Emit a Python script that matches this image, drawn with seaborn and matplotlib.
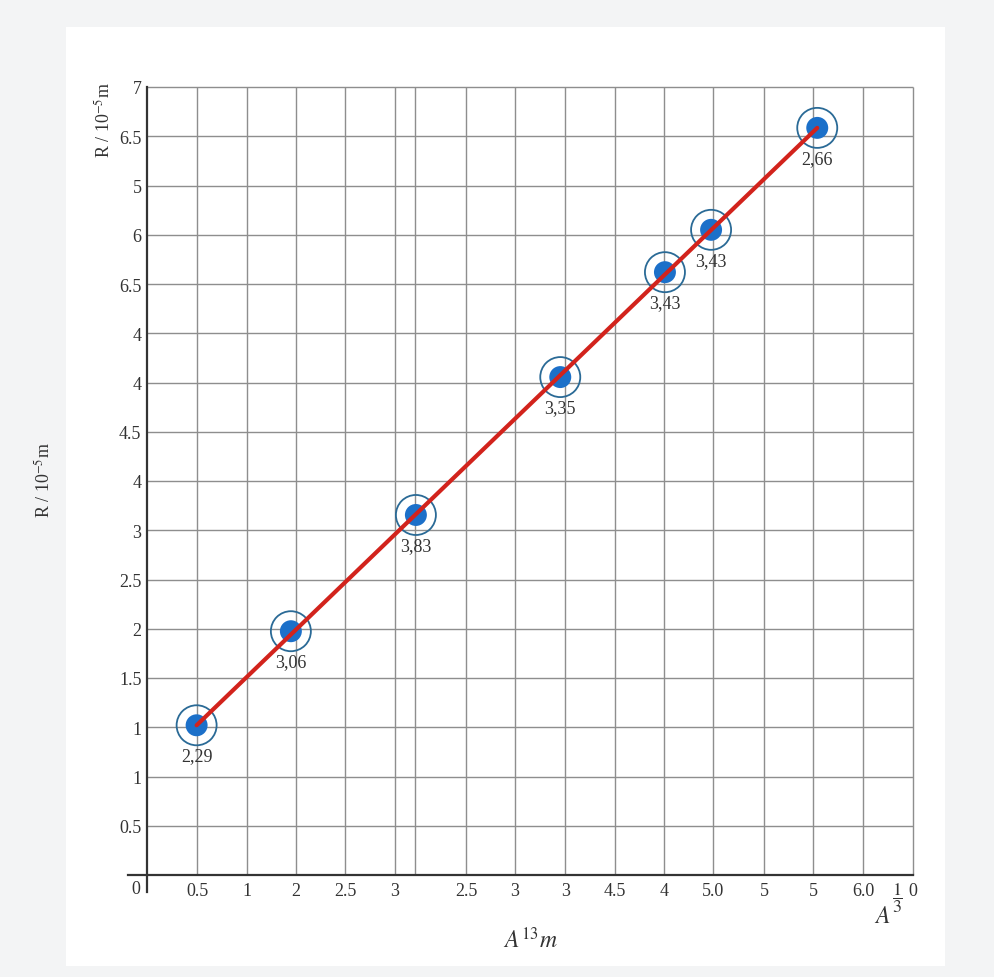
import numpy as np
import pandas as pd
import matplotlib
matplotlib.use("Agg")
import matplotlib.pyplot as plt
import seaborn as sns
from matplotlib.patches import Rectangle

# grid line positions (index units) and the labels printed on them
x_ticks = [1.01, 2.02, 3.0, 3.99, 5.0, 5.40, 6.43, 7.42, 8.43, 9.43, 10.42,
           11.41, 12.44, 13.43, 14.43, 15.44]
x_labels = ["0.5", "1", "2", "2.5", "3", "", "2.5", "3", "3", "4.5", "4",
            "5.0", "5", "5", "6.0", "0"]
y_ticks = list(range(1, 17))
y_labels = ["0.5", "1", "1", "1.5", "2", "2.5", "3", "4", "4.5", "4", "4",
            "6.5", "6", "5", "6.5", "7"]

# measured points
pt_x = [1.0, 2.90, 5.42, 8.33, 10.44, 11.37, 13.51]
pt_y = [3.04, 4.95, 7.31, 10.11, 12.24, 13.10, 15.17]
pt_labels = ["2,29", "3,06", "3,83", "3,35", "3,43", "3,43", "2,66"]

df = pd.DataFrame({"x": pt_x, "y": pt_y, "label": pt_labels})

W, H = 995, 978
sns.set_theme(style="white")
plt.rcParams["font.family"] = ["Liberation Serif", "DejaVu Serif"]
plt.rcParams["mathtext.fontset"] = "stix"
FS = 13
TXT = "#333333"

fig = plt.figure(figsize=(W / 100, H / 100), dpi=100)
fig.patch.set_facecolor("#f3f4f5")
fig.patches.append(Rectangle((66 / W, 1 - 967 / H), (945 - 66) / W, (967 - 28) / H,
                             transform=fig.transFigure, facecolor="white",
                             edgecolor="none", zorder=-10))

# axes placement from pixel anchors: x=0 -> 147px, x=15.44 -> 913px; y=0 -> 876px, y=16 -> 88px
xlim = (-0.45, 15.52)
ylim = (-0.45, 16.1)
sx = (913 - 147) / 15.44
sy = (876 - 88) / 16.0
left_px = 147 + xlim[0] * sx
right_px = 147 + xlim[1] * sx
bot_px = 876 - ylim[0] * sy
top_px = 876 - ylim[1] * sy
ax = fig.add_axes([left_px / W, 1 - bot_px / H, (right_px - left_px) / W, (bot_px - top_px) / H])
ax.set_facecolor("none")
ax.set_xlim(*xlim)
ax.set_ylim(*ylim)

grid_c = "#8e8e8e"
ax.vlines(x_ticks, 0, 16, color=grid_c, lw=1.0, zorder=1)
ax.hlines(y_ticks, 0, 15.44, color=grid_c, lw=1.0, zorder=1)

# fitted line through the ends of the series
sns.lineplot(x=[pt_x[0], pt_x[-1]], y=[pt_y[0], pt_y[-1]], ax=ax,
             color="#d2231c", lw=3.0, zorder=4)

# outer rings and filled dots
sns.scatterplot(data=df, x="x", y="y", ax=ax, s=830, facecolor="none",
                edgecolor="#2a6a96", linewidth=1.3, zorder=3)
sns.scatterplot(data=df, x="x", y="y", ax=ax, s=250, color="#1c70c9",
                edgecolor="none", zorder=3.5)

for _, r in df.iterrows():
    ax.annotate(r["label"], (r["x"], r["y"]), xytext=(0, -22), textcoords="offset points",
                ha="center", va="center", fontsize=FS, color=TXT)

ax.set_xticks(x_ticks)
ax.set_xticklabels(x_labels)
ax.set_yticks(y_ticks)
ax.set_yticklabels(y_labels)
ax.tick_params(axis="both", length=0, labelsize=FS, colors=TXT)
ax.tick_params(axis="x", pad=5)
ax.tick_params(axis="y", pad=4)

for s in ["top", "right"]:
    ax.spines[s].set_visible(False)
ax.spines["left"].set_position(("data", 0))
ax.spines["bottom"].set_position(("data", 0))
ax.spines["left"].set_bounds(-0.35, 16)
ax.spines["bottom"].set_bounds(-0.38, 15.44)
for s in ["left", "bottom"]:
    ax.spines[s].set_color(TXT)
    ax.spines[s].set_linewidth(1.6)
    ax.spines[s].set_zorder(2)

ax.set_xlabel("")
ax.set_ylabel("")

fig.text(136 / W, 1 - 890 / H, "0", ha="center", va="center", fontsize=FS, color=TXT)
fig.text(104 / W, 1 - 120 / H, r"R / 10$^{-5}$m", rotation=90, ha="center", va="center",
         fontsize=FS, color=TXT)
fig.text(44 / W, 1 - 480 / H, r"R / 10$^{-5}$m", rotation=90, ha="center", va="center",
         fontsize=FS, color=TXT)
fig.text(530 / W, 1 - 940 / H, r"$A^{13}m$", ha="center", va="center", fontsize=17,
         color=TXT)
fig.text(882 / W, 1 - 918 / H, r"$A$", ha="center", va="center", fontsize=17,
         color=TXT)
fig.text(898 / W, 1 - 898 / H, r"$\dfrac{1}{3}$", ha="center", va="center", fontsize=FS,
         color=TXT)

fig.savefig("out.png", dpi=100)
